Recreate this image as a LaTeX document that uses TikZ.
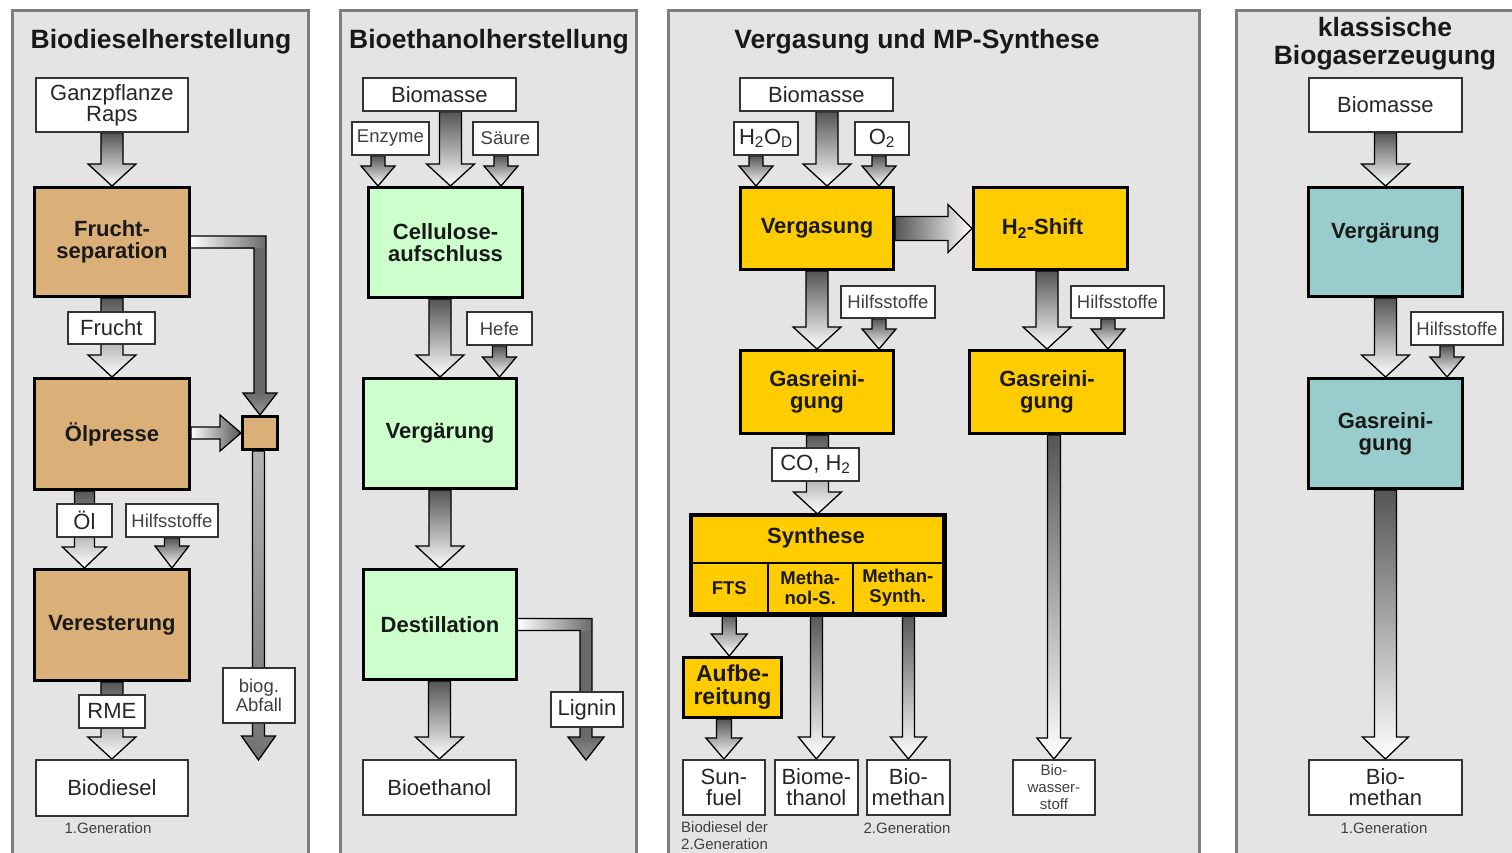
\documentclass[tikz,border=0pt]{standalone}
\usepackage{fontspec}
\setmainfont{Liberation Sans}
\usetikzlibrary{calc}
\pgfdeclarelayer{bg}\pgfdeclarelayer{arr}\pgfsetlayers{bg,arr,main}
\definecolor{panelbg}{RGB}{228,228,228}
\definecolor{panelbd}{RGB}{125,125,125}
\definecolor{ctan}{RGB}{219,175,120}
\definecolor{cgreen}{RGB}{204,255,204}
\definecolor{cgold}{RGB}{255,204,0}
\definecolor{cteal}{RGB}{153,204,204}
\definecolor{arrtop}{RGB}{85,85,85}
\definecolor{elbdark}{RGB}{105,105,105}
\definecolor{elbhead}{RGB}{150,150,150}
\tikzset{
 proc/.style={draw=black, line width=3pt, inner sep=0pt, align=center, font=\bfseries\fontsize{22}{22}\selectfont, text=black!90},
 lab/.style={draw=black!80, fill=white, line width=1.8pt, inner sep=0pt, align=center, font=\fontsize{22}{21}\selectfont, text=black!85},
 slab/.style={lab, font=\fontsize{18.5}{19}\selectfont, text=black!75},
 tlab/.style={lab, font=\fontsize{15}{17}\selectfont, text=black!75},
 ttl/.style={font=\bfseries\fontsize{26.5}{28}\selectfont, text=black!90, align=center, inner sep=0pt},
 captxt/.style={font=\fontsize{15}{17}\selectfont, text=black!75, align=left, inner sep=0pt},
 arrV/.style={draw=black, line width=1.3pt, top color=arrtop, bottom color=white},
}
% box by corners
\newcommand{\bx}[7]{\node[#2, anchor=north west, minimum width={(#5)-(#3)}, minimum height={(#6)-(#4)}] (#1) at (#3,#4) {#7};}
% vertical block arrow: start, end, shaft hw, head hw, head len, style
\newcommand{\varr}[6]{\path[#6] let \p1=#1, \p2=#2 in
 (\x2-#3pt,\y1) -- (\x2+#3pt,\y1) -- (\x2+#3pt,\y2+#5pt) -- (\x2+#4pt,\y2+#5pt) -- (\x2,\y2) -- (\x2-#4pt,\y2+#5pt) -- (\x2-#3pt,\y2+#5pt) -- cycle;}
% horizontal block arrow
\newcommand{\harr}[6]{\path[#6] let \p1=#1, \p2=#2 in
 (\x1,\y2+#3pt) -- (\x2-#5pt,\y2+#3pt) -- (\x2-#5pt,\y2+#4pt) -- (\x2,\y2) -- (\x2-#5pt,\y2-#4pt) -- (\x2-#5pt,\y2-#3pt) -- (\x1,\y2-#3pt) -- cycle;}
% elbow arrow: right then down
\newcommand{\elbarr}[5]{%
 \shade[left color=white, right color=elbdark] let \p1=#1, \p2=#2 in (\x1,\y1-#3pt) rectangle (\x2+#3pt,\y1+#3pt);
 \fill[elbdark] let \p1=#1, \p2=#2 in (\x2-#3pt,\y1-#3pt) rectangle (\x2+#3pt,\y2+#5pt);
 \shade[top color=elbdark, bottom color=elbhead] let \p1=#1, \p2=#2 in (\x2-#4pt,\y2+#5pt) -- (\x2+#4pt,\y2+#5pt) -- (\x2,\y2) -- cycle;
 \draw[line width=1.3pt] let \p1=#1, \p2=#2 in (\x1,\y1+#3pt) -- (\x2+#3pt,\y1+#3pt) -- (\x2+#3pt,\y2+#5pt) -- (\x2+#4pt,\y2+#5pt) -- (\x2,\y2) -- (\x2-#4pt,\y2+#5pt) -- (\x2-#3pt,\y2+#5pt) -- (\x2-#3pt,\y1-#3pt) -- (\x1,\y1-#3pt);}
\begin{document}
\begin{tikzpicture}[x=1pt,y=-1pt]
\useasboundingbox (0,0) rectangle (1512,853);
\begin{pgfonlayer}{bg}
\fill[white] (0,0) rectangle (1512,853);
\fill[panelbg] (12,11) rectangle (308,853);
\draw[panelbd, line width=3pt] (12,853) -- (12,11) -- (308,11) -- (308,853);
\fill[panelbg] (340,11) rectangle (636,853);
\draw[panelbd, line width=3pt] (340,853) -- (340,11) -- (636,11) -- (636,853);
\fill[panelbg] (668,11) rectangle (1199,853);
\draw[panelbd, line width=3pt] (668,853) -- (668,11) -- (1199,11) -- (1199,853);
\fill[panelbg] (1236,11) rectangle (1512,853);
\draw[panelbd, line width=3pt] (1236,853) -- (1236,11) -- (1512,11);
\end{pgfonlayer}

% titles
\node[ttl] (t1) at (161,42) {Biodieselherstellung};
\node[ttl] (t2) at (489,42) {Bioethanolherstellung};
\node[ttl] (t3) at (917,42) {Vergasung und MP-Synthese};
\node[ttl] (t4) at (1385,44) {klassische\\Biogaserzeugung};

% panel 1
\bx{gp}{lab}{35}{77}{187}{131}{Ganzpflanze\\Raps}
\bx{fs}{proc, fill=ctan}{33}{186}{188}{295}{Frucht-\\separation}
\bx{fr}{lab}{67}{311}{154}{343}{Frucht}
\bx{op}{proc, fill=ctan}{33}{377}{188}{488}{Ölpresse}
\bx{sq}{proc, fill=ctan}{241}{415}{276}{448}{}
\bx{oel}{lab}{56}{503}{111}{536}{Öl}
\bx{hs1}{slab}{125}{503}{217}{536}{Hilfsstoffe}
\bx{ve}{proc, fill=ctan}{33}{568}{188}{679}{Veresterung}
\bx{rme}{lab}{78}{694}{144}{727}{RME}
\bx{bd}{lab}{35}{759}{187}{815}{Biodiesel}
\bx{abf}{slab}{222}{667}{294}{722}{biog.\\Abfall}
\coordinate (abfend) at (258.5,760);
\node[captxt] (g1) at (108,828) {1.Generation};

% panel 2
\bx{bm2}{lab}{362}{77}{515}{110}{Biomasse}
\bx{enz}{slab}{351}{121}{428}{154}{Enzyme}
\bx{sae}{slab}{472}{121}{537}{154}{Säure}
\bx{cell}{proc, fill=cgreen}{367}{186}{521}{296}{Cellulose-\\aufschluss}
\bx{hefe}{slab}{466}{311}{531}{344}{Hefe}
\bx{verg2}{proc, fill=cgreen}{362}{377}{515}{487}{Vergärung}
\bx{dest}{proc, fill=cgreen}{362}{568}{515}{678}{Destillation}
\bx{be}{lab}{362}{759}{515}{814}{Bioethanol}
\bx{lig}{lab}{550}{691}{622}{726}{Lignin}
\coordinate (ligend) at (586,760);

% panel 3
\bx{bm3}{lab}{739}{77}{892}{110}{Biomasse}
\bx{h2o}{lab}{733}{121}{797}{154}{H\textsubscript{2}O\textsubscript{D}}
\bx{o2}{lab}{854}{121}{908}{154}{O\textsubscript{2}}
\bx{vg}{proc, fill=cgold}{739}{186}{892}{268}{Vergasung}
\bx{h2s}{proc, fill=cgold}{972}{186}{1126}{268}{H\textsubscript{2}-Shift\hspace*{16pt}}
\bx{hs3}{slab}{840}{285}{934}{317}{Hilfsstoffe}
\bx{hs4}{slab}{1070}{285}{1163}{317}{Hilfsstoffe}
\bx{gr1}{proc, fill=cgold}{739}{349}{892}{432}{Gasreini-\\gung}
\bx{gr2}{proc, fill=cgold}{968}{349}{1123}{432}{Gasreini-\\gung}
\bx{coh}{lab}{771}{447}{858}{480}{CO, H\textsubscript{2}}
\bx{syn}{proc, fill=cgold}{690}{514}{942}{612}{}
\node[font=\bfseries\fontsize{22}{22}\selectfont, text=black!90] (synt) at (816,538) {Synthese};
\bx{fts}{draw=black, line width=1.5pt, inner sep=0pt, align=center, font=\bfseries\fontsize{18.5}{20.5}\selectfont, text=black!90}{690}{562}{767}{612}{FTS}
\bx{mes}{draw=black, line width=1.5pt, inner sep=0pt, align=center, font=\bfseries\fontsize{18.5}{20.5}\selectfont, text=black!90}{767}{562}{852}{612}{Metha-\\nol-S.}
\bx{mts}{draw=black, line width=1.5pt, inner sep=0pt, align=center, font=\bfseries\fontsize{18.5}{20.5}\selectfont, text=black!90}{852}{562}{942}{612}{Methan-\\Synth.}
\draw[line width=3pt] (syn.north west) rectangle (syn.south east);
\bx{auf}{proc, fill=cgold, font=\bfseries\fontsize{23}{23}\selectfont}{682}{656}{780}{716}{Aufbe-\\reitung}
\bx{sun}{lab}{682}{759}{764}{814}{Sun-\\fuel}
\bx{bmeth}{lab}{774}{759}{857}{814}{Biome-\\thanol}
\bx{bmet}{lab}{866}{759}{949}{814}{Bio-\\methan}
\bx{bws}{tlab}{1012}{759}{1094}{814}{Bio-\\wasser-\\stoff}
\node[captxt, anchor=north west] (g3a) at (681,821) {Biodiesel der\\2.Generation};
\node[captxt] (g3b) at (907,828) {2.Generation};

% panel 4
\bx{bm4}{lab}{1308}{77}{1461}{131}{Biomasse}
\bx{vg4}{proc, fill=cteal}{1307}{186}{1461}{295}{Vergärung\\[1pt]\phantom{X}}
\bx{hs5}{slab}{1410}{311}{1502}{344}{Hilfsstoffe}
\bx{gr4}{proc, fill=cteal}{1307}{377}{1461}{487}{Gasreini-\\gung}
\bx{bm4b}{lab}{1308}{759}{1461}{814}{Bio-\\methan}
\node[captxt] (g4) at (1384,828) {1.Generation};

\begin{pgfonlayer}{arr}
% panel 1
\varr{(gp.south)}{(fs.north)}{11}{24}{22}{arrV}
\varr{(fs.south)}{(op.north)}{11}{24}{22}{arrV}
\varr{(op.south)}{(ve.north -| oel)}{10}{22}{21}{arrV}
\varr{(hs1.south)}{(ve.north -| hs1)}{7.5}{17}{22}{arrV}
\varr{(ve.south)}{(bd.north)}{11}{24}{22}{arrV}
\elbarr{(fs.east)}{(sq.north)}{6}{17}{22}
\harr{(op.east)}{(sq.west)}{6}{18}{21}{draw=black, line width=1.3pt, left color=white, right color=arrtop}
\varr{(sq.south)}{(abfend)}{6}{17}{24}{draw=black, line width=1.3pt, top color=black!30, bottom color=black!55}
% panel 2
\varr{(bm2.south)}{([xshift=5pt]cell.north)}{11}{24}{22}{arrV}
\varr{(enz.south)}{([xshift=11pt]cell.north west)}{7}{17}{20}{arrV}
\varr{(sae.south)}{([xshift=-23pt]cell.north east)}{7}{17}{20}{arrV}
\varr{(cell.south)}{(verg2.north)}{11}{24}{22}{arrV}
\varr{(hefe.south)}{(verg2.north -| hefe)}{7}{17}{20}{arrV}
\varr{(verg2.south)}{(dest.north)}{11}{24}{22}{arrV}
\varr{(dest.south)}{(be.north)}{11}{24}{22}{arrV}
\elbarr{(dest.east)}{(ligend)}{6}{18}{23}
% panel 3
\varr{(bm3.south)}{([xshift=10pt]vg.north)}{11}{24}{22}{arrV}
\varr{(h2o.south)}{([xshift=17pt]vg.north west)}{7}{17}{20}{arrV}
\varr{(o2.south)}{([xshift=-16pt]vg.north east)}{7}{17}{20}{arrV}
\harr{(vg.east)}{(h2s.west)}{12}{24}{24}{draw=black, line width=1.3pt, left color=arrtop, right color=white}
\varr{(vg.south)}{(gr1.north)}{11}{24}{22}{arrV}
\varr{(hs3.south)}{([xshift=-16pt]gr1.north east)}{7}{17}{20}{arrV}
\varr{(gr1.south)}{(syn.north)}{11}{24}{22}{arrV}
\varr{(h2s.south)}{(gr2.north)}{11}{24}{22}{arrV}
\varr{(hs4.south)}{([xshift=-18pt]gr2.north east)}{7}{17}{20}{arrV}
\varr{(gr2.south)}{(bws.north)}{6.5}{17}{21}{arrV}
\varr{(fts.south)}{(auf.north -| fts)}{7}{18}{22}{arrV}
\varr{(auf.south)}{(sun.north)}{7.5}{18}{21}{arrV}
\varr{(mes.south)}{(bmeth.north)}{6}{18}{22}{arrV}
\varr{(mts.south)}{(bmet.north)}{6}{18}{22}{arrV}
% panel 4
\varr{(bm4.south)}{(vg4.north)}{11}{24}{22}{arrV}
\varr{(vg4.south)}{(gr4.north)}{11}{24}{22}{arrV}
\varr{(hs5.south)}{([xshift=-17pt]gr4.north east)}{7}{17}{20}{arrV}
\varr{(gr4.south)}{(bm4b.north)}{11}{23}{22}{arrV}
\end{pgfonlayer}
\end{tikzpicture}
\end{document}
